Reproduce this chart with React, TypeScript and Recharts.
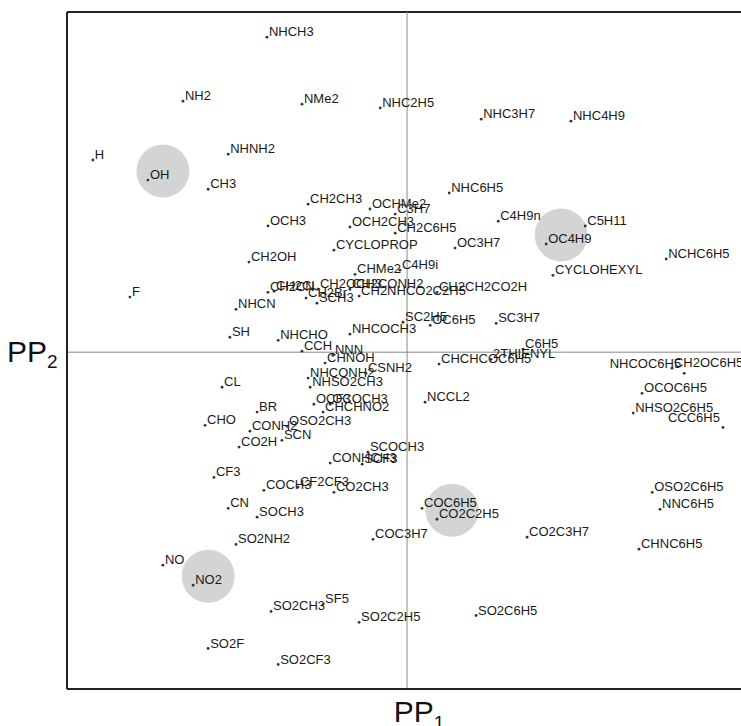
import React from 'react';
import { ScatterChart, Scatter, XAxis, YAxis, ReferenceLine, Label } from 'recharts';

// Substituent names and their coordinates on the two principal properties
const names: string[] = [
  'NHCH3', 'NH2', 'NMe2', 'NHC2H5', 'NHC3H7', 'NHC4H9', 'H', 'OH', 'NHNH2', 'CH3',
  'NHC6H5', 'CH2CH3', 'OCHMe2', 'C3H7', 'OCH3', 'OCH2CH3', 'CH2C6H5', 'C4H9n', 'OC3H7', 'OC4H9',
  'C5H11', 'CYCLOHEXYL', 'NCHC6H5', 'CYCLOPROP', 'CH2OH', 'C4H9i', 'CHMe2', 'F', 'CH2CN', 'CH2Cl',
  'CH2Br', 'SCH3', 'CH2OCH3', 'CH2CONH2', 'CH2NHCO2C2H5', 'CH2CH2CO2H', 'NHCN', 'SC2H5', 'OC6H5', 'SC3H7',
  'NHCOCH3', 'SH', 'NHCHO', 'CCH', 'C6H5', '2THIENYL', 'CHCHCOC6H5', 'NHCOC6H5', 'CH2OC6H5', 'OCOC6H5',
  'NHSO2C6H5', 'CCC6H5', 'NCCL2', 'NNN', 'CHNOH', 'NHCONH2', 'CSNH2', 'NHSO2CH3', 'OCF3', 'OCOCH3',
  'CHCHNO2', 'CL', 'BR', 'CHO', 'CONH2', 'OSO2CH3', 'CO2H', 'SCN', 'SCOCH3', 'CONHCH3',
  'SCF3', 'CF3', 'COCH3', 'CF2CF3', 'CO2CH3', 'CN', 'SOCH3', 'COC6H5', 'CO2C2H5', 'SO2NH2',
  'COC3H7', 'CO2C3H7', 'OSO2C6H5', 'NNC6H5', 'CHNC6H5', 'NO', 'NO2', 'SO2CH3', 'SF5', 'SO2C2H5',
  'SO2C6H5', 'SO2F', 'SO2CF3',
];

const pp1: number[] = [
  -0.412, -0.659, -0.309, -0.079, 0.218, 0.482, -0.924, -0.762, -0.526, -0.585,
  0.124, -0.291, -0.109, -0.035, -0.409, -0.168, -0.035, 0.268, 0.141, 0.409,
  0.524, 0.429, 0.762, -0.215, -0.465, -0.021, -0.153, -0.815, -0.409, -0.391,
  -0.297, -0.265, -0.262, -0.168, -0.141, 0.088, -0.503, -0.012, 0.068, 0.262,
  -0.168, -0.521, -0.379, -0.309, 0.341, 0.247, 0.094, 0.815, 0.779, 0.691,
  0.665, 0.929, 0.053, -0.218, -0.241, -0.291, -0.121, -0.285, -0.274, -0.226,
  -0.247, -0.544, -0.441, -0.594, -0.462, -0.353, -0.494, -0.368, -0.115, -0.226,
  -0.132, -0.568, -0.421, -0.321, -0.215, -0.526, -0.441, 0.044, 0.088, -0.503,
  -0.100, 0.353, 0.721, 0.744, 0.682, -0.718, -0.629, -0.400, -0.247, -0.141,
  0.203, -0.585, -0.379,
];

const pp2: number[] = [
  0.926, 0.738, 0.729, 0.718, 0.685, 0.679, 0.565, 0.506, 0.582, 0.479,
  0.468, 0.435, 0.421, 0.406, 0.371, 0.368, 0.350, 0.385, 0.306, 0.318,
  0.371, 0.226, 0.274, 0.300, 0.265, 0.241, 0.229, 0.162, 0.176, 0.179,
  0.159, 0.144, 0.185, 0.185, 0.165, 0.176, 0.126, 0.088, 0.079, 0.085,
  0.053, 0.044, 0.035, 0.003, 0.009, -0.021, -0.035, -0.062, -0.047, -0.121,
  -0.179, -0.221, -0.147, -0.009, -0.032, -0.076, -0.062, -0.103, -0.153, -0.153,
  -0.176, -0.103, -0.176, -0.215, -0.232, -0.218, -0.279, -0.259, -0.294, -0.326,
  -0.329, -0.368, -0.406, -0.397, -0.412, -0.459, -0.485, -0.459, -0.491, -0.565,
  -0.550, -0.544, -0.412, -0.462, -0.579, -0.626, -0.685, -0.762, -0.741, -0.794,
  -0.774, -0.871, -0.918,
];

// Substituents emphasised with a grey disc
const highlighted: string[] = ['OH', 'OC4H9', 'CO2C2H5', 'NO2'];
// Labels written to the left of their point
const leftLabeled: string[] = ['NHCOC6H5', 'CCC6H5'];

const points = names.map((name, i) => ({ name, pp1: pp1[i], pp2: pp2[i] }));
const highlightPoints = points.filter((p) => highlighted.includes(p.name));

const FONT = '"Liberation Sans", Arial, Helvetica, sans-serif';

const PointShape = (props: any) => {
  const { cx, cy, payload } = props;
  if (cx == null || cy == null) return null;
  const left = leftLabeled.includes(payload.name);
  return (
    <g>
      <circle cx={cx} cy={cy} r={1.4} fill="#333" />
      <text
        x={left ? cx - 3 : cx + 2}
        y={left ? cy - 5 : cy - 1}
        textAnchor={left ? 'end' : 'start'}
        fontSize={13}
        fontFamily={FONT}
        fill="#1a1a1a"
      >
        {payload.name}
      </text>
    </g>
  );
};

const HaloShape = (props: any) => {
  const { cx, cy } = props;
  if (cx == null || cy == null) return null;
  return <circle cx={cx + 15} cy={cy - 9} r={26.5} fill="#d4d4d4" />;
};

const XTitle = (props: any) => {
  const vb = props.viewBox || { x: 0, y: 0, width: 0, height: 0 };
  return (
    <text x={vb.x + vb.width / 2 + 15} y={vb.y + 33} textAnchor="middle" fontSize={30} fontFamily={FONT} fill="#111">
      PP<tspan fontSize={19} dy={7}>1</tspan>
    </text>
  );
};

const YTitle = (props: any) => {
  const vb = props.viewBox || { x: 0, y: 0, width: 0, height: 0 };
  return (
    <text x={vb.x + 7} y={vb.y + vb.height / 2 + 11} textAnchor="start" fontSize={30} fontFamily={FONT} fill="#111">
      PP<tspan fontSize={19} dy={6}>2</tspan>
    </text>
  );
};

export default function App() {
  return (
    <div style={{ position: 'absolute', left: 0, top: 0, width: 741, height: 726, background: '#fff' }}>
      <ScatterChart width={741} height={726} margin={{ top: 12, right: 0, bottom: 0, left: 0 }}>
        <XAxis
          type="number"
          dataKey="pp1"
          domain={[-1, 0.982]}
          allowDataOverflow
          tick={false}
          tickLine={false}
          height={37}
          axisLine={{ stroke: '#222', strokeWidth: 2 }}
        >
          <Label content={<XTitle />} />
        </XAxis>
        <YAxis
          type="number"
          dataKey="pp2"
          domain={[-0.99, 1]}
          allowDataOverflow
          tick={false}
          tickLine={false}
          width={67}
          axisLine={{ stroke: '#222', strokeWidth: 2 }}
        >
          <Label content={<YTitle />} />
        </YAxis>
        <ReferenceLine y={1} stroke="#222" strokeWidth={2} />
        <ReferenceLine x={0} stroke="#8a8a8a" strokeWidth={1} />
        <ReferenceLine y={0} stroke="#8a8a8a" strokeWidth={1} />
        <Scatter data={highlightPoints} shape={<HaloShape />} isAnimationActive={false} />
        <Scatter data={points} shape={<PointShape />} isAnimationActive={false} />
      </ScatterChart>
    </div>
  );
}
